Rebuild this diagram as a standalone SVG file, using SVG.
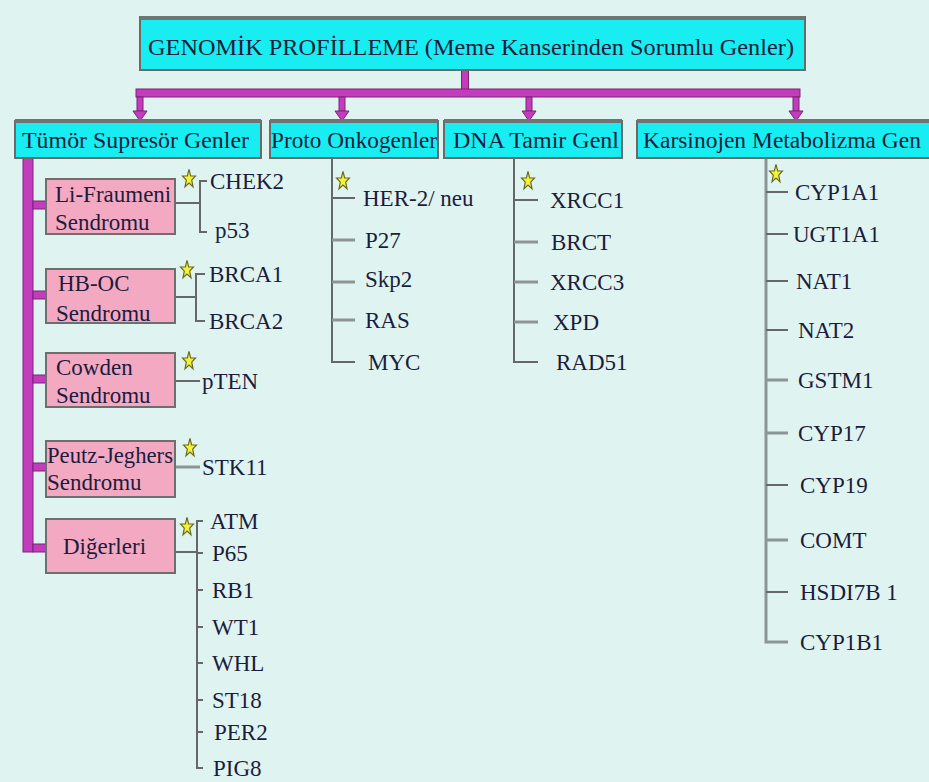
<svg xmlns="http://www.w3.org/2000/svg" xmlns:xlink="http://www.w3.org/1999/xlink" width="929" height="782" viewBox="0 0 929 782">
<style>
text{fill:#1c1c3c}
.t{font-size:24px}
.c{font-size:23.5px}
.g{font-size:23px}
.hdr{fill:#18eef2;stroke:#6a6a6a;stroke-width:2}
.band{fill:#6e7474}
.pink{fill:#f4a9c2;stroke:#6e6e6e;stroke-width:2}
.mag{fill:#c23dbb;stroke:#7c2278;stroke-width:1}
.ln{stroke:#676767;stroke-width:2;fill:none}
.lt{stroke:#8e9494;stroke-width:3;fill:none}
</style>
<defs>
<path id="star" d="M0,-9.6 L1.65,-3.2 L6.5,-3 L2.7,1.2 L4,7.8 L0,4 L-4,7.8 L-2.7,1.2 L-6.5,-3 L-1.65,-3.2 Z" fill="#f2f23a" stroke="#6a6a20" stroke-width="1.2"/>
</defs>
<rect x="0" y="0" width="929" height="782" fill="#dff4f1"/>

<g id="connectors">
<rect class="mag" x="461.5" y="70" width="7" height="22"/>
<rect class="mag" x="136" y="89" width="664" height="8"/>
<rect class="mag" x="137" y="97" width="6" height="14"/>
<path class="mag" d="M133,111 L147,111 L140,121 Z"/>
<rect class="mag" x="339" y="97" width="6" height="14"/>
<path class="mag" d="M335,111 L349,111 L342,121 Z"/>
<rect class="mag" x="526" y="97" width="6" height="14"/>
<path class="mag" d="M522,111 L536,111 L529,121 Z"/>
<rect class="mag" x="793" y="97" width="6" height="14"/>
<path class="mag" d="M789,111 L803,111 L796,121 Z"/>
<rect class="mag" x="23" y="158" width="10" height="394"/>
<rect class="mag" x="33" y="201" width="13" height="8"/>
<rect class="mag" x="33" y="291" width="13" height="8"/>
<rect class="mag" x="33" y="375" width="13" height="8"/>
<rect class="mag" x="33" y="463" width="13" height="8"/>
<rect class="mag" x="33" y="544" width="13" height="8"/>
<path class="ln" d="M175,203 H200 M207,181 H200 V232 H207"/>
<path class="ln" d="M175,297 H196 M205,274 H196 V321 H205"/>
<path class="ln" d="M175,381 H200"/>
<path class="lt" d="M175,467 H200"/>
<path class="ln" d="M175,552 H197 M203,521 H197 V768 H203 M197,553 H203 M197,590 H203 M197,627 H203 M197,663 H203 M197,700 H203 M197,732 H203"/>
<path class="ln" d="M332,158 V362 H355 M332,198 H355"/>
<path class="lt" d="M332,240 H355 M332,282 H355 M332,320 H355"/>
<path class="ln" d="M514,158 V362 H538 M514,200 H538"/>
<path class="lt" d="M514,242 H538 M514,282 H538 M514,322 H538"/>
<path class="lt" d="M766,158 V642 H788"/>
<path class="ln" d="M766,192 H788 M766,234 H788 M766,281 H788 M766,330 H788 M766,485 H788 M766,592 H788"/>
<path class="lt" d="M766,380 H788 M766,433 H788 M766,540 H788"/>
</g>

<g font-family="Liberation Serif">
<g id="title">
<rect class="hdr" x="140" y="17" width="665" height="53"/>
<rect class="band" x="140" y="16" width="665" height="4"/>
<text class="t" x="148" y="55" textLength="646" lengthAdjust="spacingAndGlyphs">GENOMİK PROFİLLEME (Meme Kanserinden Sorumlu Genler)</text>
</g>

<g id="cat-tumor">
<rect class="hdr" x="15" y="121" width="246" height="37"/>
<rect class="band" x="15" y="119" width="246" height="4"/>
<text class="c" x="22" y="148" textLength="227" lengthAdjust="spacingAndGlyphs">Tümör Supresör Genler</text>
</g>
<g id="cat-proto">
<rect class="hdr" x="270" y="121" width="168" height="37"/>
<rect class="band" x="270" y="119" width="168" height="4"/>
<text class="c" x="271" y="148" textLength="166" lengthAdjust="spacingAndGlyphs">Proto Onkogenler</text>
</g>
<g id="cat-dna">
<rect class="hdr" x="444" y="121" width="178" height="37"/>
<rect class="band" x="444" y="119" width="178" height="4"/>
<text class="c" x="453" y="148" textLength="166" lengthAdjust="spacingAndGlyphs">DNA Tamir Genl</text>
</g>
<g id="cat-karsinojen">
<rect class="hdr" x="637" y="121" width="300" height="37"/>
<rect class="band" x="637" y="119" width="300" height="4"/>
<text class="c" x="643" y="148">Karsinojen Metabolizma Gen</text>
</g>

<g id="li-fraumeni">
<rect class="pink" x="46" y="179" width="129" height="55"/>
<text class="g" x="55" y="202">Li-Fraumeni</text>
<text class="g" x="55" y="230">Sendromu</text>
<use xlink:href="#star" x="189" y="179"/>
<text class="g" x="210" y="189">CHEK2</text>
<text class="g" x="215" y="238">p53</text>
</g>
<g id="hb-oc">
<rect class="pink" x="46" y="269" width="129" height="54"/>
<text class="g" x="58" y="291">HB-OC</text>
<text class="g" x="56" y="321">Sendromu</text>
<use xlink:href="#star" x="187" y="270"/>
<text class="g" x="209" y="282">BRCA1</text>
<text class="g" x="209" y="329">BRCA2</text>
</g>
<g id="cowden">
<rect class="pink" x="46" y="353" width="129" height="54"/>
<text class="g" x="56" y="375">Cowden</text>
<text class="g" x="56" y="403">Sendromu</text>
<use xlink:href="#star" x="189" y="361"/>
<text class="g" x="202" y="389">pTEN</text>
</g>
<g id="peutz-jeghers">
<rect class="pink" x="46" y="441" width="129" height="56"/>
<text class="g" x="47" y="463" textLength="126" lengthAdjust="spacingAndGlyphs">Peutz-Jeghers</text>
<text class="g" x="47" y="490">Sendromu</text>
<use xlink:href="#star" x="190" y="448"/>
<text class="g" x="202" y="475">STK11</text>
</g>
<g id="digerleri">
<rect class="pink" x="46" y="519" width="129" height="54"/>
<text class="g" x="63" y="554">Diğerleri</text>
<use xlink:href="#star" x="187" y="527"/>
<text class="g" x="210" y="529">ATM</text>
<text class="g" x="212" y="561">P65</text>
<text class="g" x="212" y="598">RB1</text>
<text class="g" x="212" y="635">WT1</text>
<text class="g" x="212" y="671">WHL</text>
<text class="g" x="212" y="708">ST18</text>
<text class="g" x="214" y="740">PER2</text>
<text class="g" x="213" y="776">PIG8</text>
</g>

<g id="proto-genes">
<use xlink:href="#star" x="343" y="181"/>
<text class="g" x="363" y="206">HER-2/ neu</text>
<text class="g" x="365" y="248">P27</text>
<text class="g" x="365" y="287">Skp2</text>
<text class="g" x="365" y="328">RAS</text>
<text class="g" x="368" y="370">MYC</text>
</g>
<g id="dna-genes">
<use xlink:href="#star" x="528" y="181"/>
<text class="g" x="550" y="208">XRCC1</text>
<text class="g" x="551" y="250">BRCT</text>
<text class="g" x="550" y="290">XRCC3</text>
<text class="g" x="553" y="330">XPD</text>
<text class="g" x="556" y="370">RAD51</text>
</g>
<g id="karsinojen-genes">
<use xlink:href="#star" x="776" y="174"/>
<text class="g" x="795" y="200">CYP1A1</text>
<text class="g" x="793" y="242">UGT1A1</text>
<text class="g" x="796" y="289">NAT1</text>
<text class="g" x="798" y="338">NAT2</text>
<text class="g" x="798" y="388">GSTM1</text>
<text class="g" x="798" y="441">CYP17</text>
<text class="g" x="800" y="493">CYP19</text>
<text class="g" x="800" y="548">COMT</text>
<text class="g" x="800" y="600">HSDI7B 1</text>
<text class="g" x="800" y="650">CYP1B1</text>
</g>
</g>
</svg>
